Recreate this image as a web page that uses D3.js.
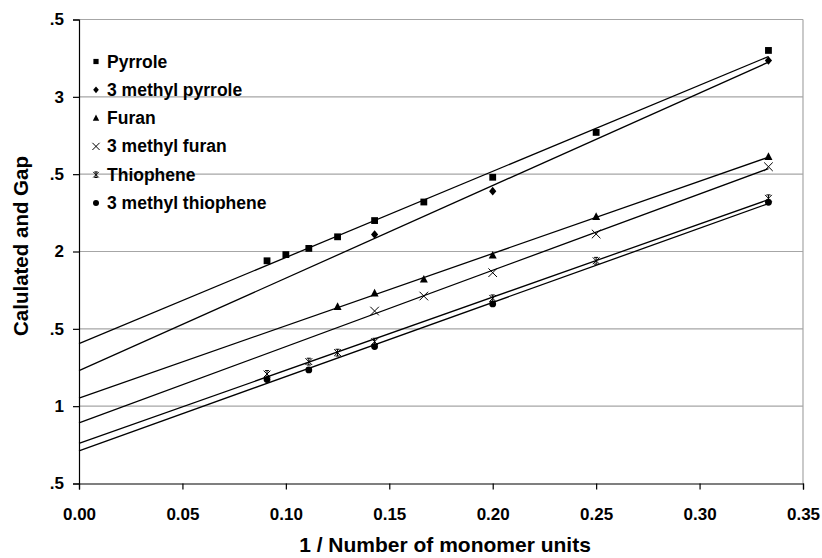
<!DOCTYPE html>
<html>
<head>
<meta charset="utf-8">
<script src="https://cdn.jsdelivr.net/npm/d3@7"></script>
<style>
  body { margin: 0; background: #fff; }
  svg { display: block; font-family: Arial, "Liberation Sans", sans-serif; font-weight: bold; }
</style>
</head>
<body>
<svg id="chart" width="822" height="558"></svg>
<script>
// Tick labels as they appear (leading digits clipped in the original)
const yTicks = [0.5, 1, 1.5, 2, 2.5, 3, 3.5];
const yTickLabels = ['.5', '1', '.5', '2', '.5', '3', '.5'];
const xTicks = [0, 0.05, 0.1, 0.15, 0.2, 0.25, 0.3, 0.35];

const seriesNames = ['Pyrrole', '3 methyl pyrrole', 'Furan', '3 methyl furan', 'Thiophene', '3 methyl thiophene'];
const seriesMarkers = ['square', 'diamond', 'triangle', 'cross', 'star', 'circle'];

// 1 / number of monomer units
const pyrroleX = [0.0909, 0.1, 0.1111, 0.125, 0.1429, 0.1667, 0.2, 0.25, 0.3333];
const pyrroleY = [1.94, 1.98, 2.02, 2.095, 2.20, 2.32, 2.48, 2.77, 3.30];
const mePyrroleX = [0.1429, 0.2, 0.3333];
const mePyrroleY = [2.11, 2.39, 3.235];
const furanX = [0.125, 0.1429, 0.1667, 0.2, 0.25, 0.3333];
const furanY = [1.643, 1.73, 1.82, 1.975, 2.225, 2.613];
const meFuranX = [0.1429, 0.1667, 0.2, 0.25, 0.3333];
const meFuranY = [1.615, 1.712, 1.863, 2.113, 2.548];
const thiopheneX = [0.0909, 0.1111, 0.125, 0.1429, 0.2, 0.25, 0.3333];
const thiopheneY = [1.208, 1.288, 1.346, 1.417, 1.697, 1.94, 2.344];
const meThiopheneX = [0.0909, 0.1111, 0.1429, 0.2, 0.3333];
const meThiopheneY = [1.172, 1.234, 1.385, 1.661, 2.318];

const seriesX = [pyrroleX, mePyrroleX, furanX, meFuranX, thiopheneX, meThiopheneX];
const seriesY = [pyrroleY, mePyrroleY, furanY, meFuranY, thiopheneY, meThiopheneY];

const series = seriesNames.map((name, i) => ({
  name,
  marker: seriesMarkers[i],
  points: seriesX[i].map((x, j) => ({ x, y: seriesY[i][j] }))
}));

// least squares trendline, drawn from x = 0 to last point
function fit(points) {
  const mx = d3.mean(points, d => d.x);
  const my = d3.mean(points, d => d.y);
  const sxy = d3.sum(points, d => (d.x - mx) * (d.y - my));
  const sxx = d3.sum(points, d => (d.x - mx) ** 2);
  const slope = sxy / sxx;
  return { slope, intercept: my - slope * mx };
}

const svg = d3.select('#chart');
const margin = { left: 79, right: 19, top: 19.5, bottom: 74.5 };
const width = 822, height = 558;

const x = d3.scaleLinear().domain([0, 0.35]).range([margin.left, width - margin.right]);
const y = d3.scaleLinear().domain([0.5, 3.5]).range([height - margin.bottom, margin.top]);

// gridlines
svg.append('g')
  .selectAll('line')
  .data(yTicks.filter(d => d > 0.5))
  .enter()
  .append('line')
  .attr('x1', x(0)).attr('x2', x(0.35))
  .attr('y1', d => y(d)).attr('y2', d => y(d))
  .attr('stroke', '#a6a6a6')
  .attr('stroke-width', 1.2);

// right border
svg.append('line')
  .attr('x1', x(0.35)).attr('x2', x(0.35))
  .attr('y1', y(3.5)).attr('y2', y(0.5))
  .attr('stroke', '#a6a6a6')
  .attr('stroke-width', 1.2);

// axes
const xAxis = d3.axisBottom(x).tickValues(xTicks).tickFormat(d3.format('.2f')).tickSizeOuter(0).tickSize(6).tickPadding(18);
svg.append('g')
  .attr('transform', `translate(0, ${y(0.5)})`)
  .call(xAxis);

const yAxis = d3.axisLeft(y).tickValues(yTicks).tickFormat((d, i) => yTickLabels[i]).tickSizeOuter(0).tickSize(6).tickPadding(9);
svg.append('g')
  .attr('transform', `translate(${x(0)}, 0)`)
  .call(yAxis);

svg.selectAll('.tick text')
  .attr('font-size', 17)
  .attr('font-weight', 'bold')
  .attr('font-family', 'Arial, "Liberation Sans", sans-serif')
  .attr('fill', '#000');
svg.selectAll('.domain, .tick line').attr('stroke', '#000').attr('stroke-width', 1.2);

// trendlines
const plot = svg.append('g');
series.forEach(s => {
  const f = fit(s.points);
  const xEnd = d3.max(s.points, d => d.x);
  plot.append('line')
    .attr('x1', x(0)).attr('y1', y(f.intercept))
    .attr('x2', x(xEnd)).attr('y2', y(f.intercept + f.slope * xEnd))
    .attr('stroke', '#000')
    .attr('stroke-width', 1.3);
});

// marker drawing
function drawMarker(g, type, r) {
  if (type === 'square') {
    g.append('rect').attr('x', -r).attr('y', -r).attr('width', 2 * r).attr('height', 2 * r).attr('fill', '#000');
  } else if (type === 'diamond') {
    g.append('path').attr('d', `M0,${-r * 1.2}L${r},0L0,${r * 1.2}L${-r},0Z`).attr('fill', '#000');
  } else if (type === 'triangle') {
    g.append('path').attr('d', `M0,${-r * 1.1}L${r},${r * 0.8}L${-r},${r * 0.8}Z`).attr('fill', '#000');
  } else if (type === 'cross') {
    g.append('path').attr('d', `M${-r},${-r}L${r},${r}M${-r},${r}L${r},${-r}`).attr('stroke', '#000').attr('stroke-width', 1).attr('fill', 'none');
  } else if (type === 'star') {
    g.append('path').attr('d', `M${-r},${-r}L${r},${r}M${-r},${r}L${r},${-r}M0,${-r}L0,${r}M${-r * 0.6},${-r}L${r * 0.6},${-r}M${-r * 0.6},${r}L${r * 0.6},${r}`)
      .attr('stroke', '#000').attr('stroke-width', 1).attr('fill', 'none');
  } else if (type === 'circle') {
    g.append('circle').attr('r', r).attr('fill', '#000');
  }
}

const plotSizes = { square: 3.4, diamond: 3.6, triangle: 4, cross: 4.3, star: 3.4, circle: 3.4 };
series.forEach(s => {
  plot.selectAll(null)
    .data(s.points)
    .enter()
    .append('g')
    .attr('transform', d => `translate(${x(d.x)}, ${y(d.y)})`)
    .each(function () { drawMarker(d3.select(this), s.marker, plotSizes[s.marker]); });
});

// legend
const legendSizes = { square: 2.6, diamond: 2.8, triangle: 3.2, cross: 3.6, star: 2.8, circle: 3 };
const legend = svg.append('g').attr('transform', 'translate(96, 61.5)');
series.forEach((s, i) => {
  const row = legend.append('g').attr('transform', `translate(0, ${i * 28.3})`);
  drawMarker(row, s.marker, legendSizes[s.marker]);
  row.append('text')
    .attr('x', 11)
    .attr('y', 6)
    .attr('font-size', 17.5)
    .text(s.name);
});

// axis titles
svg.append('text')
  .attr('x', 445)
  .attr('y', 552)
  .attr('text-anchor', 'middle')
  .attr('font-size', 21)
  .text('1 / Number of monomer units');

svg.append('text')
  .attr('transform', 'translate(28, 246) rotate(-90)')
  .attr('text-anchor', 'middle')
  .attr('font-size', 20.5)
  .text('Calulated and Gap');
</script>
</body>
</html>
